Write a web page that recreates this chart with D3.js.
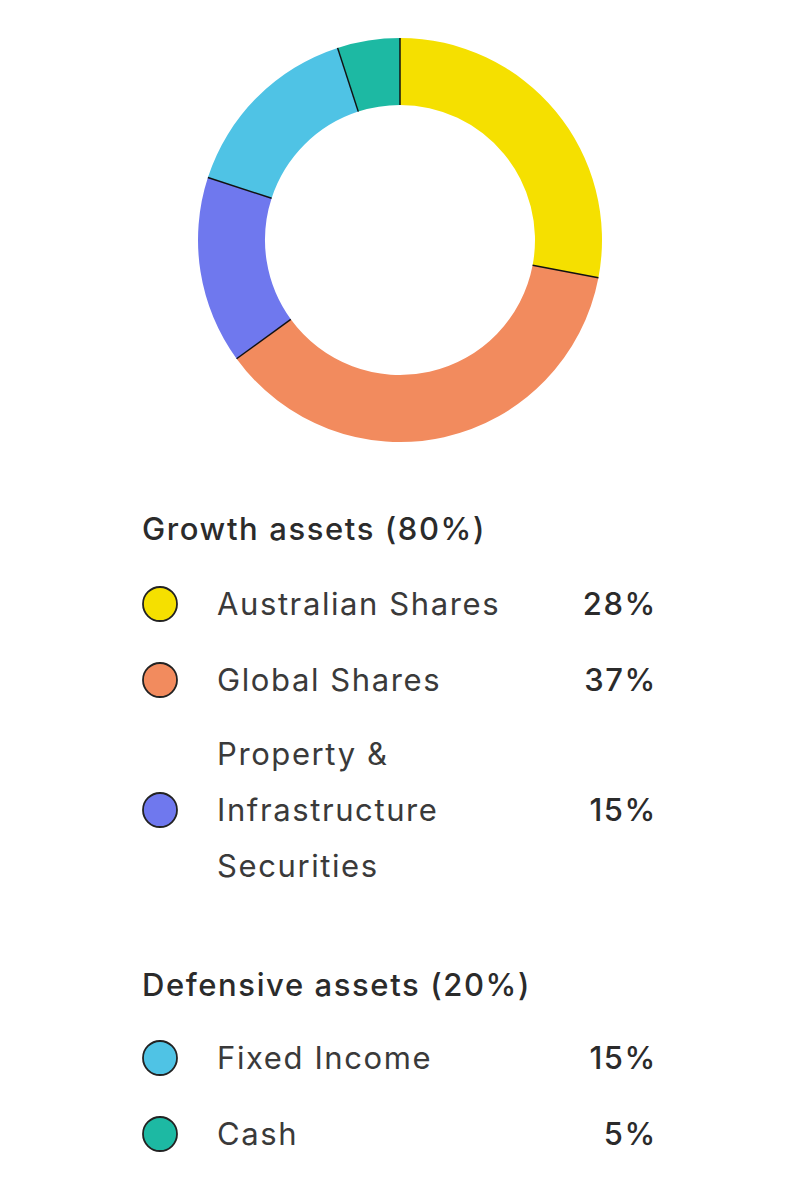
<!DOCTYPE html>
<html><head><meta charset="utf-8">
<script src="https://cdn.jsdelivr.net/npm/d3@7"></script>
<style>body{margin:0;background:#fff}</style>
</head><body>
<svg id="chart" width="800" height="1200"></svg>
<script>
// slice order clockwise from 12 o'clock
var names = ["Australian Shares","Global Shares","Property & Infrastructure Securities","Fixed Income","Cash"];
var labelLines = [["Australian Shares"],["Global Shares"],["Property &","Infrastructure","Securities"],["Fixed Income"],["Cash"]];
var values = [28, 37, 15, 15, 5];
var colors = ["#f5e000","#f28b5e","#6f78ee","#4fc3e5","#1db9a3"];
var groups = ["Growth assets (80%)","Defensive assets (20%)"];

var svg = d3.select("#chart");
var cx = 400, cy = 240, rOut = 202, rIn = 135;
var pie = d3.pie().sort(null).value(function(d){return d;});
var arcs = pie(values);
var arc = d3.arc().innerRadius(rIn).outerRadius(rOut);
var g = svg.append("g").attr("transform","translate("+cx+","+cy+")");
g.selectAll("path").data(arcs).enter().append("path")
  .attr("d", arc).attr("fill", function(d,i){return colors[i];});
g.selectAll("line.sep").data(arcs).enter().append("line").attr("class","sep")
  .attr("x1", function(d){return rIn*Math.sin(d.startAngle);})
  .attr("y1", function(d){return -rIn*Math.cos(d.startAngle);})
  .attr("x2", function(d){return rOut*Math.sin(d.startAngle);})
  .attr("y2", function(d){return -rOut*Math.cos(d.startAngle);})
  .attr("stroke","#111").attr("stroke-width",1.5);

var font = "Inter, 'Noto Sans', sans-serif";
var ls = "1.6px";
var headY = [540, 996];
svg.selectAll("text.head").data(groups).enter().append("text").attr("class","head")
  .attr("x",142).attr("y",function(d,i){return headY[i];})
  .attr("font-family",font).attr("font-size",31).attr("font-weight",500)
  .attr("letter-spacing",ls)
  .attr("fill","#2b2b2b").text(function(d){return d;});

var rowY = [604, 680, 810, 1058, 1134];
var lineH = 56;
var rows = svg.selectAll("g.row").data(names).enter().append("g").attr("class","row")
  .attr("transform",function(d,i){return "translate(0,"+rowY[i]+")";});
rows.append("circle").attr("cx",160).attr("cy",0).attr("r",17)
  .attr("fill",function(d,i){return colors[i];}).attr("stroke","#222").attr("stroke-width",1.8);
rows.each(function(d,i){
  var n = labelLines[i].length;
  d3.select(this).selectAll("text.lab").data(labelLines[i]).enter().append("text").attr("class","lab")
    .attr("x",217).attr("y",function(t,j){return (j-(n-1)/2)*lineH + 11;})
    .attr("font-family",font).attr("font-size",31).attr("letter-spacing",ls)
    .attr("fill","#3a3a3a").text(function(t){return t;});
});
rows.append("text").attr("x",657).attr("y",11).attr("text-anchor","end")
  .attr("font-family",font).attr("font-size",31).attr("font-weight",500).attr("letter-spacing",ls)
  .attr("fill","#2b2b2b").text(function(d,i){return values[i]+"%";});
</script>
</body></html>
